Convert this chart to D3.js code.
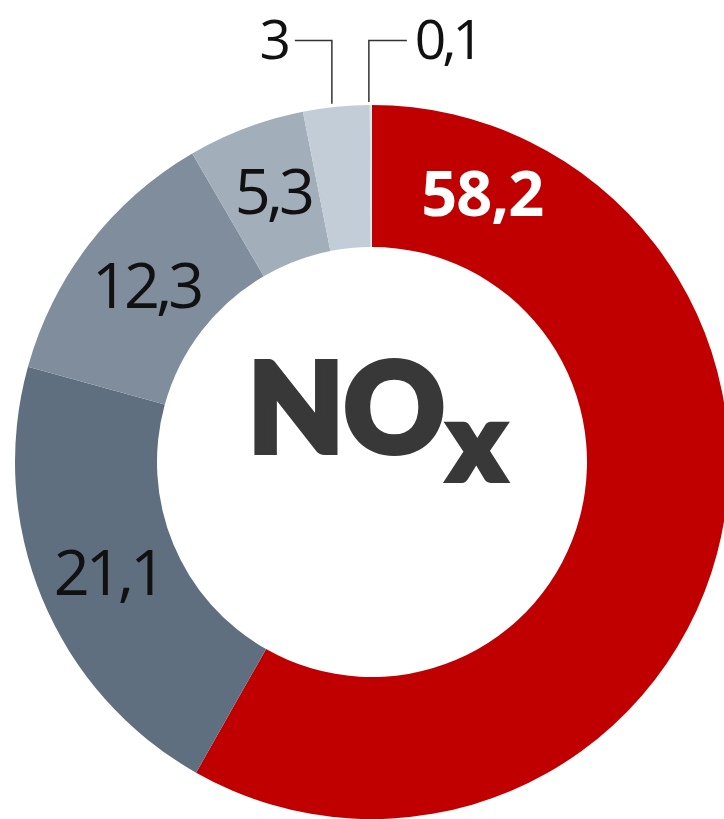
<!DOCTYPE html>
<meta charset="utf-8">
<script src="https://cdn.jsdelivr.net/npm/d3@7"></script>
<style>
body { margin: 0; background: #fff; }
text { font-family: "Open Sans", "Noto Sans", sans-serif; }
.lbl { font-size: 63px; fill: #111; letter-spacing: -4px; }
.leader { fill: none; stroke: #333; stroke-width: 1.5px; }
</style>
<body>
<script>

// shares of NOx emissions, clockwise from 12 o'clock
var values = [58.2, 21.1, 12.3, 5.3, 3, 0.1];
var labels = ["58,2", "21,1", "12,3", "5,3", "3", "0,1"];
var colors = ["#c00000", "#5f6f80", "#808d9c", "#a3aebb", "#c2cdd8", "#dde4eb"];

var width = 724, height = 819;
var cx = 372, cy = 462;
var outerR = 357, innerR = 215, labelR = 289;

var svg = d3.select("body").append("svg")
    .attr("width", width)
    .attr("height", height);

var g = svg.append("g")
    .attr("transform", "translate(" + cx + "," + cy + ")");

var pie = d3.pie().sort(null).value(function(d) { return d; });
var arcs = pie(values);

var arc = d3.arc().innerRadius(innerR).outerRadius(outerR);

g.selectAll("path.slice")
    .data(arcs)
    .enter().append("path")
    .attr("class", "slice")
    .attr("d", arc)
    .style("fill", function(d, i) { return colors[i]; });

function polar(a, r) {
  return [r * Math.sin(a), -r * Math.cos(a)];
}

// labels inside slices (first slice label sits near its start, not centre)
arcs.forEach(function(d, i) {
  if (i > 3) return;
  var a = (d.startAngle + d.endAngle) / 2;
  if (i === 0) a = d.startAngle + 0.38;
  var p = polar(a, labelR);
  g.append("text")
      .attr("class", "lbl")
      .attr("x", p[0] + 3)
      .attr("y", p[1])
      .attr("dy", "0.36em")
      .attr("text-anchor", "middle")
      .style("fill", i === 0 ? "#fff" : "#111")
      .style("font-weight", i === 0 ? 700 : 400)
      .style("letter-spacing", i === 0 ? "-1px" : null)
      .text(labels[i]);
});

// small slices: labels above with elbow leader lines
var topY = 40.5 - cy;
arcs.forEach(function(d, i) {
  if (i < 4) return;
  var a = (d.startAngle + d.endAngle) / 2;
  var p = polar(a, outerR + 3);
  var left = i === 4;
  var x0 = left ? p[0] - 4 : p[0] - 2;
  var x1 = left ? x0 - 37 : x0 + 38;
  g.append("path")
      .attr("class", "leader")
      .attr("d", "M" + x0 + "," + p[1] + "V" + topY + "H" + x1);
  g.append("text")
      .attr("class", "lbl")
      .style("font-size", "55px")
      .attr("x", left ? x1 - 8 : x1 + 8)
      .attr("y", 59 - cy)
      .attr("text-anchor", left ? "end" : "start")
      .text(labels[i]);
});

// centre title
var title = g.append("text")
    .attr("x", -124)
    .attr("y", -10)
    .style("font-family", "Lato, 'DejaVu Sans', sans-serif")
    .style("font-weight", 900)
    .style("fill", "#383838")
    .style("stroke", "#383838")
    .style("stroke-width", 6)
    .style("stroke-linejoin", "miter");
title.append("tspan").style("font-size", "124px").text("NO");
title.append("tspan").style("font-size", "106px").attr("dx", 4).attr("dy", 28).text("x");

</script>
</body>
